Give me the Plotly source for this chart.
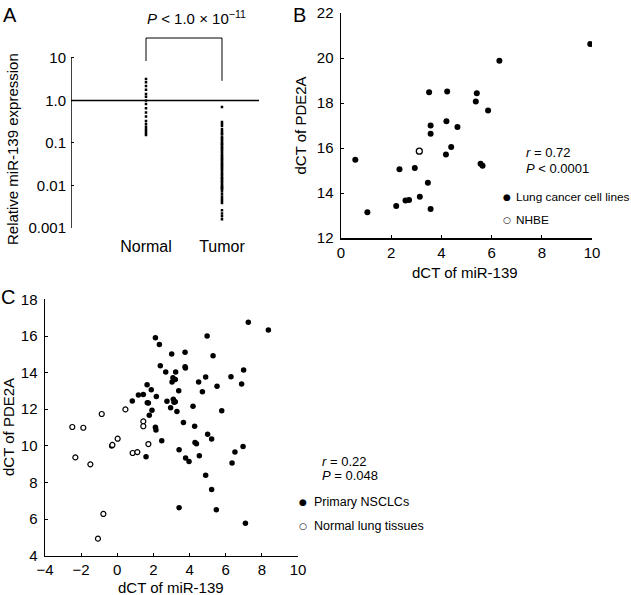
import plotly.graph_objects as go

FONT = "Liberation Sans, Arial, sans-serif"

# ---------------- Panel A data ----------------
groups = ["Normal", "Tumor"]
normal_expr = [3.2, 2.7, 2.2, 1.8, 1.42, 1.23, 1.0, 0.83, 0.66, 0.52, 0.42,
               0.33, 0.28, 0.24, 0.21, 0.19, 0.17, 0.155]
tumor_expr = [0.70, 0.31, 0.28, 0.25, 0.21, 0.19, 0.17, 0.16, 0.14, 0.13, 0.12,
              0.11, 0.10, 0.095, 0.088, 0.08, 0.075, 0.07, 0.064, 0.058, 0.053,
              0.049, 0.045, 0.042, 0.039, 0.036, 0.033, 0.031, 0.029, 0.027,
              0.025, 0.023, 0.021, 0.019, 0.018, 0.016, 0.015, 0.014, 0.013,
              0.012, 0.011, 0.010, 0.0095, 0.009, 0.0085, 0.008, 0.0072,
              0.0062, 0.0054, 0.0048, 0.0043, 0.0039, 0.0026, 0.0022,
              0.0019, 0.0016]
a_ticks = [0.001, 0.01, 0.1, 1, 10]
a_ticktext = ["0.001", "0.01", "0.1", "1.0", "10"]
ref_level = 1.0
bracket_y = [8.5, 29.5, 29.5, 2.9]

# ---------------- Panel B data ----------------
cell_mir139 = [9.93, 6.31, 3.51, 4.23, 5.41, 5.37, 5.86, 4.20, 3.57, 4.64, 3.57,
               4.39, 4.18, 0.57, 2.33, 2.94, 5.56, 5.64, 3.46, 3.14, 2.57, 2.71,
               2.20, 3.57, 1.05]
cell_pde2a = [20.62, 19.88, 18.48, 18.51, 18.43, 18.07, 17.67, 17.19, 17.00,
              16.93, 16.63, 16.04, 15.71, 15.48, 15.06, 15.11, 15.30, 15.21,
              14.46, 13.83, 13.67, 13.69, 13.42, 13.29, 13.14]
nhbe_mir139 = [3.12]
nhbe_pde2a = [15.86]

# ---------------- Panel C data ----------------
nsclc_mir139 = [7.25, 8.36, 4.97, 2.11, 2.33, 5.30, 3.01, 3.75, 2.38, 3.75, 3.77,
                2.68, 3.23, 6.99, 4.89, 3.08, 3.21, 3.03, 4.50, 6.29, 1.65, 6.88,
                5.52, 3.40, 1.88, 1.44, 1.17, 2.16, 2.75, 3.10, 3.21, 3.14, 1.66,
                1.72, 0.83, 4.71, 4.19, 2.95, 3.30, 1.92, 5.78, 1.77, 3.66, 4.28,
                2.11, 2.14, 5.00, 5.22, 2.46, 4.30, 4.38, -0.31, 3.42, 6.96, 6.51,
                1.59, 4.54, 3.78, 3.97, 6.35, 4.89, 5.22, 3.42, 5.48, 7.09]
nsclc_pde2a = [16.75, 16.33, 16.00, 15.91, 15.54, 14.92, 15.02, 15.11, 14.38,
               14.32, 14.25, 14.03, 14.03, 14.14, 13.76, 13.72, 13.63, 13.49,
               13.49, 13.78, 13.34, 13.38, 13.25, 13.01, 13.07, 12.81, 12.78,
               12.70, 12.43, 12.54, 12.41, 12.38, 12.36, 12.34, 12.45, 12.96,
               12.16, 12.08, 11.87, 11.94, 11.92, 11.67, 11.27, 11.07, 11.01,
               10.87, 10.63, 10.37, 10.28, 10.19, 10.12, 9.99, 9.79, 9.97, 9.66,
               9.41, 9.46, 9.34, 9.15, 9.06, 8.39, 7.61, 6.62, 6.51, 5.77]
lung_mir139 = [-2.49, -1.88, -0.86, 0.45, 1.44, 1.44, 0.02, 1.72, -0.27, 0.85,
               1.11, -2.32, -1.49, -0.77, -1.07]
lung_pde2a = [11.03, 10.99, 11.74, 11.99, 11.34, 11.07, 10.39, 10.10, 10.05,
              9.61, 9.66, 9.37, 8.99, 6.28, 4.93]

legend_b = ["Lung cancer cell lines", "NHBE"]
legend_c = ["Primary NSCLCs", "Normal lung tissues"]

W, H = 631, 595


def px_x(p):
    return p / W


def px_y(p):
    return 1 - p / H


fig = go.Figure()

# ---- Panel A traces ----
A_XR = [0.013, 2.487]
fig.add_trace(go.Scatter(x=[1] * len(normal_expr), y=normal_expr, mode="markers",
                         name="Normal", marker=dict(color="black", size=2.5, symbol="square"),
                         showlegend=False, xaxis="x", yaxis="y"))
fig.add_trace(go.Scatter(x=[2] * len(tumor_expr), y=tumor_expr, mode="markers",
                         name="Tumor", marker=dict(color="black", size=2.5, symbol="square"),
                         showlegend=False, xaxis="x", yaxis="y"))
fig.add_trace(go.Scatter(x=A_XR, y=[ref_level, ref_level], mode="lines",
                         line=dict(color="black", width=1.5), showlegend=False,
                         hoverinfo="skip", xaxis="x", yaxis="y"))
fig.add_trace(go.Scatter(x=[A_XR[0], A_XR[0]], y=[a_ticks[0], a_ticks[-1]], mode="lines",
                         line=dict(color="black", width=1.5), showlegend=False,
                         hoverinfo="skip", xaxis="x", yaxis="y"))
fig.add_trace(go.Scatter(x=[1, 1, 2, 2], y=bracket_y, mode="lines",
                         line=dict(color="black", width=1), showlegend=False,
                         hoverinfo="skip", xaxis="x", yaxis="y"))

# ---- Panel B traces ----
fig.add_trace(go.Scatter(x=cell_mir139, y=cell_pde2a, mode="markers",
                         name=legend_b[0], showlegend=False,
                         marker=dict(color="black", size=6, symbol="circle"),
                         xaxis="x2", yaxis="y2"))
fig.add_trace(go.Scatter(x=nhbe_mir139, y=nhbe_pde2a, mode="markers",
                         name=legend_b[1], showlegend=False,
                         marker=dict(color="white", size=6, symbol="circle",
                                     line=dict(color="black", width=1.3)),
                         xaxis="x2", yaxis="y2"))

# ---- Panel C traces ----
fig.add_trace(go.Scatter(x=nsclc_mir139, y=nsclc_pde2a, mode="markers",
                         name=legend_c[0], showlegend=False,
                         marker=dict(color="black", size=5.5, symbol="circle"),
                         xaxis="x3", yaxis="y3"))
fig.add_trace(go.Scatter(x=lung_mir139, y=lung_pde2a, mode="markers",
                         name=legend_c[1], showlegend=False,
                         marker=dict(color="white", size=5, symbol="circle",
                                     line=dict(color="black", width=1.2)),
                         xaxis="x3", yaxis="y3"))

tickfont = dict(family=FONT, size=15, color="black")
common_ax = dict(showgrid=False, zeroline=False, linecolor="black", linewidth=1.5,
                 ticks="inside", ticklen=3, tickcolor="black", tickwidth=1,
                 tickfont=tickfont, fixedrange=True)

layout = dict(
    width=W, height=H, margin=dict(l=0, r=0, t=0, b=0, autoexpand=False),
    paper_bgcolor="white", plot_bgcolor="white", showlegend=False,
    font=dict(family=FONT, color="black"),
    # Panel A
    xaxis=dict(domain=[px_x(71), px_x(259)], range=A_XR, showline=False,
               showgrid=False, zeroline=False, tickvals=[1, 2], ticktext=groups,
               ticks="", tickfont=dict(family=FONT, size=16, color="black"),
               anchor="y", ticklabelstandoff=6, fixedrange=True),
    yaxis=dict(domain=[px_y(228.85), px_y(34.6)], type="log", range=[-3.02, 1.55],
               showline=False, showgrid=False, zeroline=False,
               tickvals=a_ticks, ticktext=a_ticktext, ticks="inside", ticklen=3,
               tickcolor="black", tickfont=tickfont, anchor="x",
               ticklabelstandoff=4, fixedrange=True),
    # Panel B
    xaxis2=dict(common_ax, domain=[px_x(341), px_x(592)], range=[0, 10], dtick=2,
                tick0=0, anchor="y2", showline=True),
    yaxis2=dict(common_ax, domain=[px_y(238), px_y(13)], range=[12, 22], dtick=2,
                tick0=12, anchor="x2", showline=True, ticklabelstandoff=3),
    # Panel C
    xaxis3=dict(common_ax, domain=[px_x(45), px_x(298)], range=[-4, 10], dtick=2,
                tick0=-4, anchor="y3", showline=True),
    yaxis3=dict(common_ax, domain=[px_y(555.7), px_y(299.4)], range=[4, 18], dtick=2,
                tick0=4, anchor="x3", showline=True, ticklabelstandoff=3),
)


def ann(text, x, y, size, angle=0, xanchor="center", family=FONT):
    return dict(text=text, x=px_x(x), y=px_y(y), xref="paper", yref="paper",
                showarrow=False, textangle=angle, xanchor=xanchor, yanchor="middle",
                font=dict(family=family, size=size, color="black"))


GLYPH = "DejaVu Sans"
annotations = [
    ann("A", 10, 15, 20), ann("B", 299, 15, 20), ann("C", 8, 297, 20),
    ann("<i>P</i> < 1.0 × 10<sup>−11</sup>", 196, 17, 15),
    ann("Relative miR-139 expression", 12, 149, 15, angle=-90),
    ann("dCT of PDE2A", 300, 125.5, 15, angle=-90),
    ann("dCT of miR-139", 465, 273, 15),
    ann("<i>r</i> = 0.72", 524, 153, 13, xanchor="left"),
    ann("<i>P</i> < 0.0001", 524, 168, 13, xanchor="left"),
    ann("●", 507, 197, 9, family=GLYPH),
    ann(legend_b[0], 514, 197, 11.8, xanchor="left"),
    ann("○", 507, 220, 9, family=GLYPH),
    ann(legend_b[1], 514, 220, 11.8, xanchor="left"),
    ann("dCT of PDE2A", 8, 427, 15, angle=-90),
    ann("dCT of miR-139", 171, 587, 15),
    ann("<i>r</i> = 0.22", 320, 461, 13, xanchor="left"),
    ann("<i>P</i> = 0.048", 320, 475, 13, xanchor="left"),
    ann("●", 303, 502, 9, family=GLYPH),
    ann(legend_c[0], 312, 502, 12.5, xanchor="left"),
    ann("○", 303, 526, 9, family=GLYPH),
    ann(legend_c[1], 312, 526, 12.5, xanchor="left"),
]
layout["annotations"] = annotations

fig.update_layout(**layout)
fig.write_html("out.html",
               config={"displayModeBar": False, "staticPlot": True},
               post_script="document.body.style.margin='0';document.body.style.overflow='hidden';")
